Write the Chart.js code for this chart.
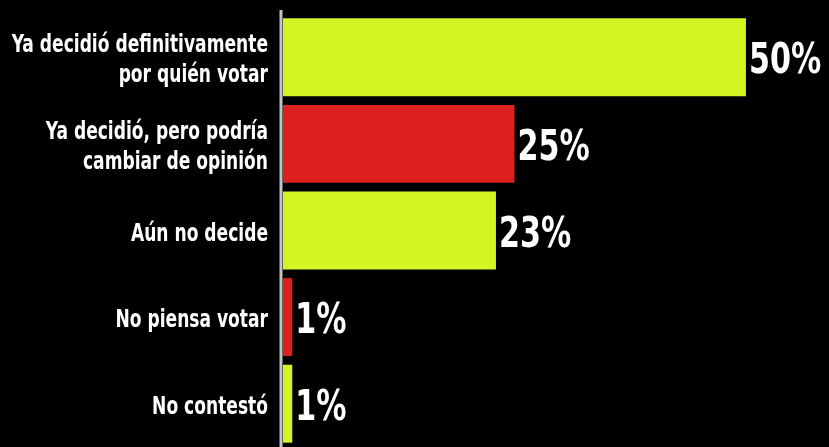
<!DOCTYPE html>
<html>
<head>
<meta charset="utf-8">
<script src="https://cdn.jsdelivr.net/npm/chart.js@4/dist/chart.umd.min.js"></script>
<style>
  body { margin: 0; background: #000; }
</style>
</head>
<body>
<canvas id="chart" width="829" height="447"></canvas>
<script>
var categories = [
    ['Ya decidió definitivamente', 'por quién votar'],
    ['Ya decidió, pero podría', 'cambiar de opinión'],
    ['Aún no decide'],
    ['No piensa votar'],
    ['No contestó']
];
var values = [50, 25, 23, 1, 1];
var barColors = ['#d5f424', '#dc1f1f', '#d5f424', '#dc1f1f', '#d5f424'];

var labelFont = "'DejaVu Sans Condensed', 'DejaVu Sans', sans-serif";

// condensed text: the original uses a narrow bold face, so squeeze horizontally
function squeezedText(ctx, text, x, y, sx, align) {
    var w = ctx.measureText(text).width * sx;
    var left = align == 'right' ? x - w : x;
    ctx.save();
    ctx.translate(left, y);
    ctx.scale(sx, 1);
    ctx.textAlign = 'left';
    ctx.fillText(text, 0, 0);
    ctx.restore();
}

var customLabels = {
    id: 'customLabels',
    afterDatasetsDraw: function(chart) {
        var ctx = chart.ctx;
        var area = chart.chartArea;
        var yScale = chart.scales.y;
        var meta = chart.getDatasetMeta(0);

        // axis line
        ctx.save();
        ctx.strokeStyle = '#c4c4c4';
        ctx.lineWidth = 3;
        ctx.beginPath();
        ctx.moveTo(area.left - 2, area.top - 4);
        ctx.lineTo(area.left - 2, area.bottom);
        ctx.stroke();

        ctx.fillStyle = '#ffffff';
        ctx.textBaseline = 'alphabetic';

        // category labels
        ctx.font = 'bold 25px ' + labelFont;
        categories.forEach(function(lines, i) {
            var cy = yScale.getPixelForValue(i);
            lines.forEach(function(line, j) {
                var by = cy + 10 + (j - (lines.length - 1) / 2) * 30;
                squeezedText(ctx, line, area.left - 15, by, 0.76, 'right');
            });
        });

        // value labels
        ctx.font = 'bold 43px ' + labelFont;
        meta.data.forEach(function(bar, i) {
            squeezedText(ctx, values[i] + '%', bar.x + 3, bar.y + 16, 0.78, 'left');
        });
        ctx.restore();
    }
};

var ctx = document.getElementById('chart').getContext('2d');
var chart = new Chart(ctx, {
    type: 'bar',
    data: {
        labels: categories,
        datasets: [{
            data: values,
            backgroundColor: barColors,
            borderWidth: 0,
            categoryPercentage: 0.9,
            barPercentage: 1
        }]
    },
    options: {
        indexAxis: 'y',
        responsive: false,
        animation: false,
        layout: { padding: { top: 14, right: 9, bottom: 0, left: 0 } },
        plugins: {
            legend: { display: false },
            tooltip: { enabled: false }
        },
        scales: {
            x: {
                min: 0,
                max: 58,
                display: false
            },
            y: {
                afterFit: function(scale) {
                    scale.width = 283;
                    scale.paddingTop = 0;
                    scale.paddingBottom = 0;
                },
                grid: { display: false, drawTicks: false },
                border: { display: false },
                ticks: { display: false }
            }
        }
    },
    plugins: [customLabels]
});
</script>
</body>
</html>
